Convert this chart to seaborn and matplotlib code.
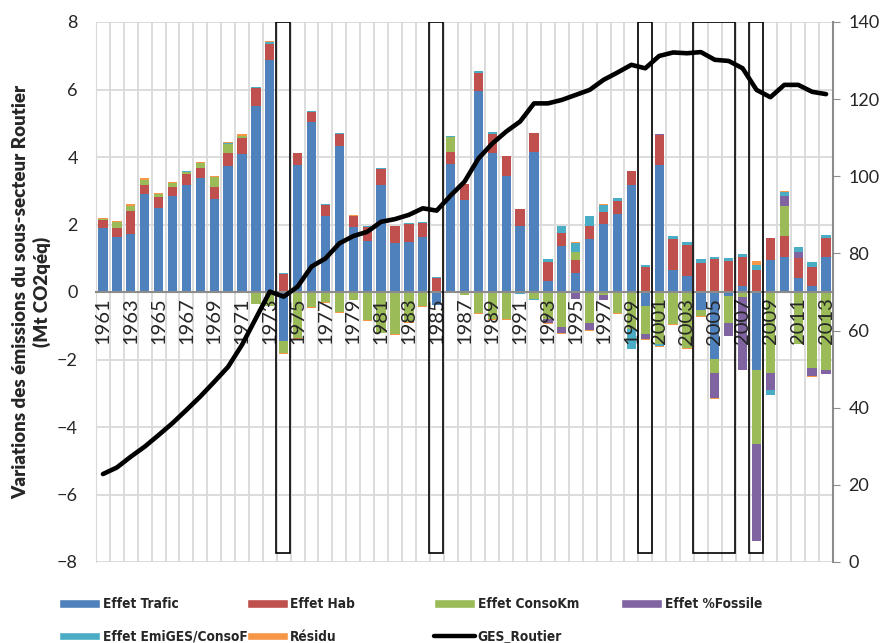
import numpy as np
import pandas as pd
import matplotlib
matplotlib.use("Agg")
import matplotlib.pyplot as plt
from matplotlib.patches import Rectangle, Patch
from matplotlib.lines import Line2D
import seaborn as sns

# Données (Mt CO2éq)
years = list(range(1961, 2014))

effet_trafic = [1.91, 1.63, 1.73, 2.90, 2.50, 2.85, 3.17, 3.39, 2.76, 3.74,
                4.08, 5.52, 6.86, -1.45, 3.76, 5.05, 2.26, 4.33, 1.94, 1.50,
                3.17, 1.44, 1.49, 1.63, -0.38, 3.78, 2.74, 5.95, 4.12, 3.43,
                1.95, 4.14, 0.32, 1.35, 0.56, 1.57, 2.01, 2.32, 3.17, -0.42,
                3.77, 0.66, 0.47, -0.52, -1.99, -0.13, 0.19, -2.31, 0.95, 1.04,
                0.41, 0.17, 1.03]
effet_hab = [0.21, 0.27, 0.66, 0.27, 0.32, 0.26, 0.32, 0.28, 0.35, 0.38,
             0.49, 0.51, 0.50, 0.54, 0.35, 0.28, 0.33, 0.36, 0.31, 0.42,
             0.46, 0.51, 0.53, 0.42, 0.41, 0.38, 0.46, 0.53, 0.57, 0.61,
             0.50, 0.56, 0.56, 0.41, 0.39, 0.40, 0.37, 0.38, 0.43, 0.74,
             0.89, 0.91, 0.92, 0.85, 0.98, 0.92, 0.84, 0.65, 0.65, 0.63,
             0.61, 0.56, 0.57]
effet_consokm = [0.03, 0.16, 0.15, 0.14, 0.08, 0.11, 0.08, 0.14, 0.29, 0.28,
                 0.05, -0.37, -0.40, -0.35, -1.35, -0.45, -0.30, -0.59, -0.25, -0.82,
                 -1.20, -1.24, -0.90, -0.42, 0.00, 0.42, -0.08, -0.63, -0.79, -0.79,
                 -0.03, -0.22, -0.80, -1.04, 0.25, -0.93, -0.10, -0.62, -1.10, -0.81,
                 -1.55, -0.96, -1.66, -0.20, -0.41, -0.79, -0.14, -2.20, -2.41, 0.88,
                 -1.55, -2.24, -2.31]
effet_fossile = [0, 0, 0, 0, 0, 0, 0, 0, 0, 0,
                 0, 0, 0, 0, 0, 0, 0, 0, 0, 0,
                 0, 0, 0, 0, 0, 0, 0, 0, 0, 0,
                 0, 0, -0.12, -0.17, -0.20, -0.20, -0.14, 0, 0, -0.17,
                 0.03, 0, 0, 0, -0.75, -0.37, -2.17, -2.86, -0.50, 0.29,
                 0.18, -0.26, -0.11]
effet_emiges = [0.01, 0.01, 0.01, 0.01, 0.01, 0.01, 0.01, 0.01, 0.01, 0.01,
                0.01, 0.03, 0.06, 0.03, 0.02, 0.04, 0.03, 0.03, 0.01, 0.03,
                0.03, 0.01, 0.01, 0.01, 0.03, 0.03, 0.01, 0.06, 0.06, -0.02,
                -0.03, -0.03, 0.09, 0.21, 0.25, 0.29, 0.20, 0.08, -0.60, 0.07,
                -0.05, 0.09, 0.10, 0.13, 0.06, 0.09, 0.11, 0.14, -0.14, 0.12,
                0.12, 0.15, 0.09]
residu = [0.03, 0.02, 0.05, 0.05, 0.02, 0.02, 0.02, 0.02, 0.03, 0.02,
          0.05, 0.02, 0.01, -0.03, -0.03, -0.03, -0.02, -0.03, 0.02, -0.03,
          -0.02, -0.03, -0.02, -0.03, 0.00, 0.02, 0.00, -0.03, -0.03, -0.02,
          0.02, 0.02, -0.02, -0.02, 0.02, -0.02, 0.02, -0.02, 0.00, -0.02,
          -0.03, -0.02, -0.02, -0.02, -0.02, -0.02, 0.00, 0.13, 0.00, 0.04,
          0.00, -0.02, -0.02]
ges_routier = [22.8, 24.5, 27.3, 29.9, 32.9, 36.0, 39.4, 42.9, 46.7, 50.6,
               56.3, 63.2, 70.1, 68.8, 71.4, 76.6, 78.7, 82.6, 84.5, 85.6,
               88.2, 88.9, 90.0, 91.7, 91.1, 95.0, 98.6, 104.6, 108.5, 111.6,
               114.2, 118.9, 118.9, 119.8, 121.1, 122.4, 125.0, 126.9, 128.9, 128.0,
               131.2, 132.1, 131.9, 132.2, 130.2, 129.9, 128.0, 122.4, 120.5, 123.7,
               123.7, 121.9, 121.3]

# périodes encadrées (années de début et de fin)
periodes = [(1974, 1974), (1985, 1985), (2000, 2000), (2004, 2006), (2008, 2008)]

series = [
    ("Effet Trafic", effet_trafic, "#4F81BD"),
    ("Effet Hab", effet_hab, "#C0504D"),
    ("Effet ConsoKm", effet_consokm, "#9BBB59"),
    ("Effet %Fossile", effet_fossile, "#8064A2"),
    ("Effet EmiGES/ConsoF", effet_emiges, "#4BACC6"),
    ("Résidu", residu, "#F79646"),
]

sns.set_style("white")
plt.rcParams["font.family"] = ["Lato", "DejaVu Sans"]

fig = plt.figure(figsize=(8.86, 6.43), dpi=100)
ax = fig.add_axes([96 / 886, 1 - 562 / 643, (833 - 96) / 886, (562 - 22) / 643])

labels = [str(y) for y in years]
n = len(years)

# quadrillage dessiné à la main, sous les barres
ax.hlines(np.arange(-8, 9, 2), -0.5, n - 0.5, color="#d9d9d9", lw=1.3, zorder=0)
ax.vlines(np.arange(-0.5, n, 1), -8, 8, color="#d9d9d9", lw=1.3, zorder=0)

pos_base = np.zeros(n)
neg_base = np.zeros(n)
for name, vals, color in series:
    v = np.array(vals, dtype=float)
    bottom = np.where(v >= 0, pos_base, neg_base)
    df = pd.DataFrame({"annee": labels, "valeur": v})
    sns.barplot(data=df, x="annee", y="valeur", order=labels, color=color,
                bottom=bottom, width=0.67, linewidth=0, errorbar=None,
                saturation=1, ax=ax, zorder=1)
    pos_base = pos_base + np.where(v >= 0, v, 0)
    neg_base = neg_base + np.where(v < 0, v, 0)

for debut, fin in periodes:
    i0 = years.index(debut) - 0.55
    i1 = years.index(fin) + 0.45
    ax.add_patch(Rectangle((i0, -7.72), i1 - i0, 15.72, fill=False,
                           edgecolor="black", lw=1.2, zorder=5))

ax2 = ax.twinx()
sns.lineplot(x=np.arange(n), y=ges_routier, ax=ax2, color="black", lw=3.3)
ax2.set_ylim(0, 140)
ax2.set_yticks(np.arange(0, 141, 20))
ax2.tick_params(axis="y", direction="out", length=5, color="#8c8c8c",
                labelsize=13, pad=6)
for s in ["top", "left", "bottom"]:
    ax2.spines[s].set_visible(False)
ax2.spines["right"].set_color("#8c8c8c")
ax2.spines["right"].set_linewidth(1.5)
ax2.grid(False)
ax2.set_ylabel("")

# axe principal, réglé après le tracé de la courbe
ax.set_axisbelow(False)
ax.grid(False)
ax.set_xlim(-0.5, n - 0.5)
ax.set_ylim(-8, 8)
ax.set_yticks(np.arange(-8, 9, 2))
ax.set_xticks(np.arange(0, n, 2))
ax.set_xticklabels(labels[::2])
ax.tick_params(axis="x", length=0, pad=4, labelsize=14.5, labelrotation=90)
ax.tick_params(axis="y", length=0, labelsize=13, pad=13)
ax.set_xlabel("")
ax.set_ylabel("Variations des émissions du sous-secteur Routier\n(Mt CO2qéq)",
              fontsize=13.5, fontweight="heavy", linespacing=1.25, va="center")
ax.yaxis.set_label_coords(-0.087, 0.5)
for s in ["top", "right"]:
    ax.spines[s].set_visible(False)
ax.spines["left"].set_color("#d9d9d9")
ax.spines["bottom"].set_position(("data", 0))
ax.spines["bottom"].set_color("#8c8c8c")
ax.spines["bottom"].set_linewidth(1.5)
for t in ax.get_xticklabels():
    t.set_rotation(90)
    t.set_va("top")
    t.set_ha("center")

# légende sur deux lignes, colonnes régulièrement espacées
colonnes = [
    [series[0], series[4]],
    [series[1], series[5]],
    [series[2], ("GES_Routier", None, "black")],
    [series[3]],
]
leg_font = {"family": "DejaVu Sans", "stretch": "condensed", "weight": "bold", "size": 9.8}
for k, col in enumerate(colonnes):
    handles = []
    for name, vals, color in col:
        if vals is None:
            handles.append(Line2D([], [], color=color, lw=3.2, label=name))
        else:
            handles.append(Patch(facecolor=color, label=name))
    fig.legend(handles=handles, loc="upper left",
               bbox_to_anchor=((62 + 187.3 * k - 8) / 886, 1 - 592 / 643),
               frameon=False, prop=leg_font, handlelength=3.0, handleheight=0.6,
               handletextpad=0.2, labelspacing=1.35, borderaxespad=0)

fig.savefig("out.png", dpi=100)
